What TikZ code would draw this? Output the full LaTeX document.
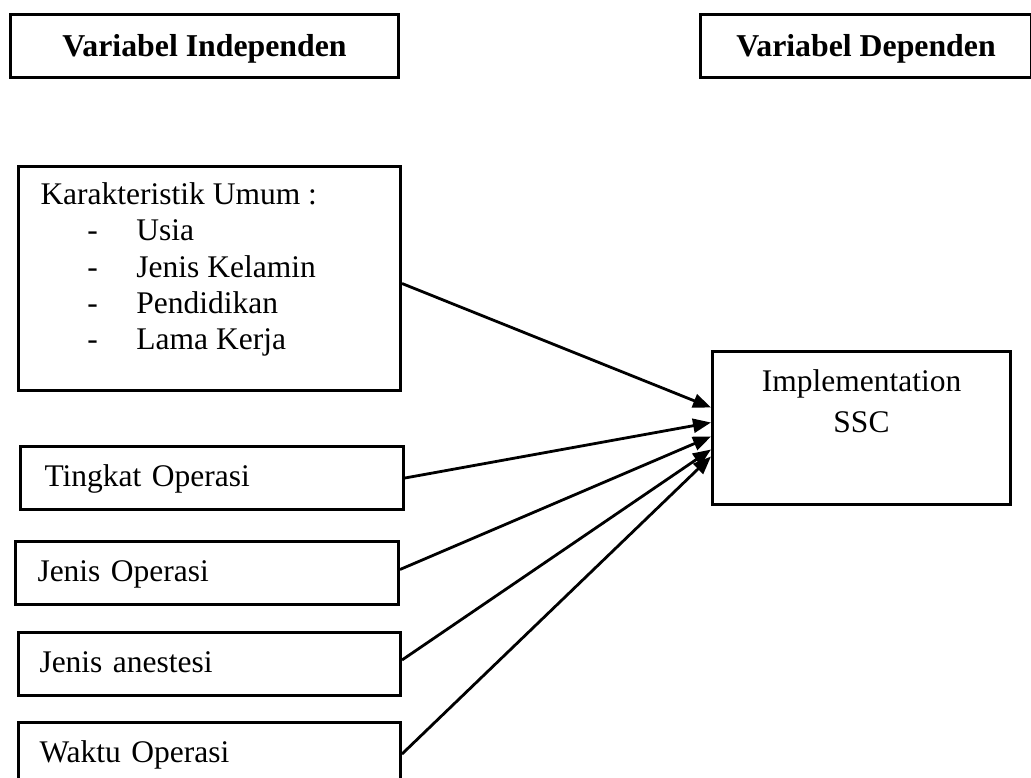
\documentclass[tikz,border=0pt]{standalone}
\usepackage{fontspec}
\setmainfont{Liberation Serif}
\usetikzlibrary{arrows.meta}
\begin{document}
\begin{tikzpicture}[x=1pt,y=-1pt,
  box/.style={draw, line width=3pt, rectangle, anchor=north west},
  onebox/.style={box, minimum width=#1, minimum height=63pt, inner ysep=0pt,
    inner xsep=21pt, text width=#1-42pt, align=left, text height=22pt, text depth=5pt,
    font=\fontsize{31.5}{36.3}\selectfont},
  headbox/.style={box, minimum width=#1, minimum height=63pt, inner sep=0pt,
    align=center, text height=22pt, text depth=1pt,
    font=\fontsize{31.8}{36}\selectfont\bfseries},
  conn/.style={line width=2.8pt, -{Triangle[length=18pt,width=14pt]}}]
\useasboundingbox (0,0) rectangle (1031,778);

\node[headbox=388pt] (indep) at (9,13) {Variabel Independen};
\node[headbox=331pt] (dep) at (699,13) {Variabel Dependen};

\node[box, inner sep=0pt] (kar) at (17,165) {\parbox[c][224pt][t]{382pt}{%
  \setlength{\parindent}{0pt}\raggedright\fontsize{31.5}{36.3}\selectfont
  \hspace*{22pt}\rule{0pt}{38pt}Karakteristik Umum :\\
  \hspace*{69pt}\makebox[49pt][l]{-}Usia\\
  \hspace*{69pt}\makebox[49pt][l]{-}Jenis Kelamin\\
  \hspace*{69pt}\makebox[49pt][l]{-}Pendidikan\\
  \hspace*{69pt}\makebox[49pt][l]{-}Lama Kerja}};

\node[onebox=383pt, inner xsep=24pt, text width=335pt] (ting) at (19,445) {Tingkat Operasi};
\node[onebox=383pt, inner xsep=22pt, text width=339pt] (jop) at (14,540) {Jenis Operasi};
\node[onebox=382pt] (jan) at (17,631) {Jenis anestesi};
\node[onebox=382pt] (wak) at (17,721) {Waktu Operasi};

\node[box, inner sep=0pt] (impl) at (711,350) {\parbox[c][153pt][t]{298pt}{%
  \centering\fontsize{31.5}{41}\selectfont\rule{0pt}{40pt}Implementation\\SSC}};

\draw[conn] ([yshift=-5pt]kar.east) -- ([yshift=20.5pt]impl.west);
\draw[conn] (ting.east) -- ([yshift=5.5pt]impl.west);
\draw[conn] ([yshift=3.5pt]jop.east) -- ([yshift=-8.5pt]impl.west);
\draw[conn] ([yshift=4pt]jan.east) -- ([yshift=-21.5pt]impl.west);
\draw[conn] (wak.east) -- ([yshift=-28.5pt]impl.west);
\end{tikzpicture}
\end{document}
